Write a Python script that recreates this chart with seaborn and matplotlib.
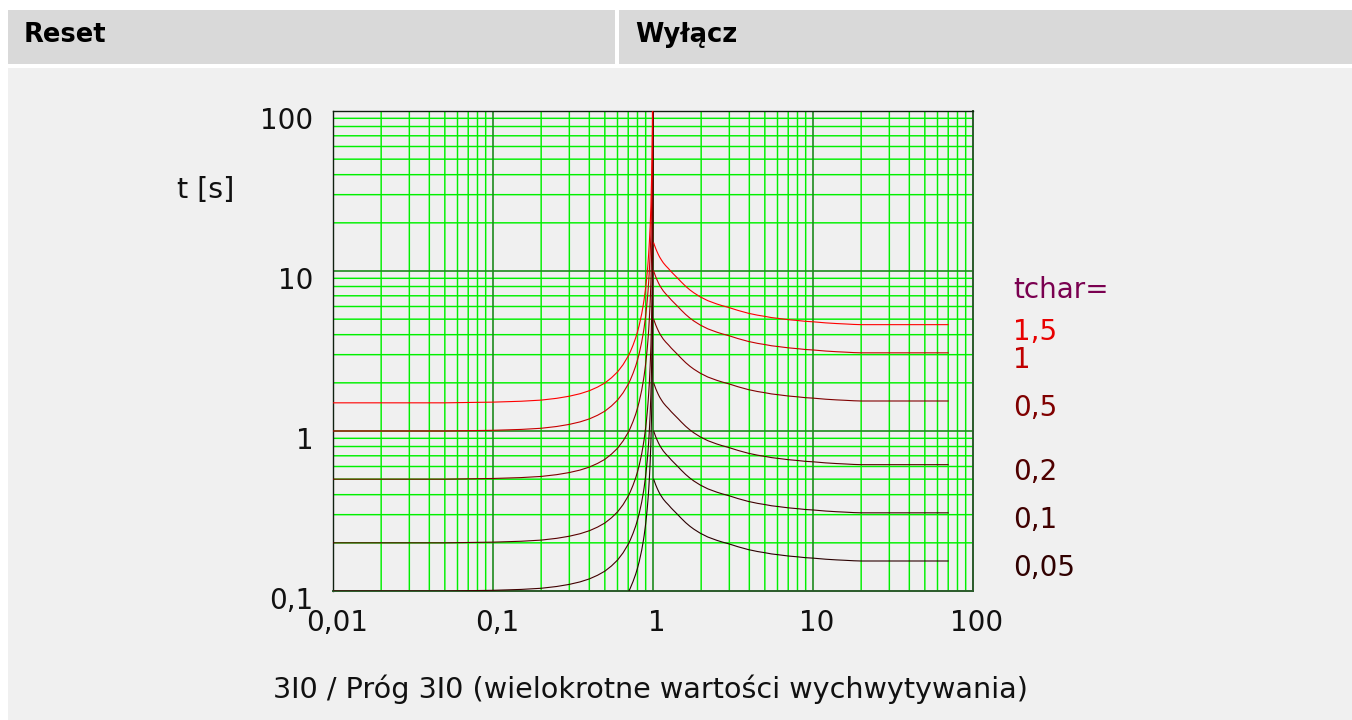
import numpy as np
import pandas as pd
import matplotlib
matplotlib.use("Agg")
import matplotlib.pyplot as plt
from matplotlib.patches import Rectangle
from matplotlib.ticker import FixedLocator, LogLocator, NullFormatter
from matplotlib.transforms import ScaledTranslation, blended_transform_factory
import seaborn as sns

# Time multiplier settings shown on the chart
tchar_values = [1.5, 1.0, 0.5, 0.2, 0.1, 0.05]
tchar_labels = ["1,5", "1", "0,5", "0,2", "0,1", "0,05"]
curve_colors = ["#ff0000", "#c80000", "#800000", "#580000", "#400000", "#2a0000"]
label_colors = ["#e80000", "#c00000", "#800000", "#500000", "#400000", "#300000"]

# Reset characteristic: multiple of pickup vs. time per unit of tchar
reset_m = [0.01, 0.05, 0.1, 0.15, 0.2, 0.25, 0.3, 0.35, 0.4, 0.45, 0.5, 0.55,
           0.6, 0.65, 0.7, 0.72, 0.75, 0.78, 0.8, 0.82, 0.85, 0.87, 0.88, 0.9,
           0.91, 0.92, 0.93, 0.94, 0.95, 0.96, 0.97, 0.98, 0.985, 0.99, 0.995,
           0.999, 0.9999]
reset_t = [1.0, 1.0, 1.01, 1.023, 1.04, 1.067, 1.10, 1.14, 1.19, 1.254, 1.33, 1.434,
           1.56, 1.732, 1.96, 2.077, 2.29, 2.553, 2.78, 3.052, 3.6, 4.115, 4.43, 5.26,
           5.82, 6.51, 7.4, 8.59, 10.3, 12.76, 16.9, 25.3, 33.8, 50.0, 100.0,
           500.0, 5000.0]

# Trip characteristic: multiple of pickup vs. time per unit of tchar
trip_m = [1.01, 1.02, 1.03, 1.04, 1.05, 1.06, 1.08, 1.10, 1.13, 1.16, 1.20,
          1.25, 1.30, 1.35, 1.44, 1.5, 1.6, 1.7, 1.8, 1.97, 2.2, 2.5, 2.7,
          2.96, 3.4, 3.94, 4.5, 5.0, 5.5, 6.07, 7.0, 8.0, 9.0, 10.0, 12.0,
          14.0, 16.0, 18.0, 20.0, 70.0]
trip_t = [10.0, 9.7, 9.45, 9.2, 9.0, 8.8, 8.45, 8.15, 7.8, 7.5, 7.2,
          6.9, 6.6, 6.35, 5.95, 5.7, 5.35, 5.08, 4.87, 4.6, 4.35, 4.15, 4.05,
          3.95, 3.78, 3.63, 3.53, 3.47, 3.41, 3.37, 3.31, 3.27, 3.23, 3.21, 3.16,
          3.13, 3.11, 3.09, 3.08, 3.08]

x_ticks = [0.01, 0.1, 1, 10, 100]
x_tick_labels = ["0,01", "0,1", "1", "10", "100"]
y_ticks = [0.1, 1, 10, 100]
y_tick_labels = ["0,1", "1", "10", "100"]

header_left = "Reset"
header_right = "Wyłącz"
y_title = "t [s]"
x_title = "3I0 / Próg 3I0 (wielokrotne wartości wychwytywania)"

rows = []
for tc in tchar_values:
    for m, t in zip(reset_m, reset_t):
        rows.append({"M": m, "t": tc * t, "tchar": tc, "side": "reset"})
    for m, t in zip(trip_m, trip_t):
        rows.append({"M": m, "t": tc * t, "tchar": tc, "side": "trip"})
df = pd.DataFrame(rows)

sns.set_theme(style="white")
plt.rcParams["font.family"] = ["DejaVu Sans"]

MINOR_GRID = "#00f000"
MAJOR_GRID = "#1e8a1e"

W, H, DPI = 1352, 720, 100
fig = plt.figure(figsize=(W / DPI, H / DPI), dpi=DPI, facecolor="white")

def px_rect(x0, y0, x1, y1, color):
    fig.patches.append(Rectangle((x0 / W, 1 - y1 / H), (x1 - x0) / W, (y1 - y0) / H,
                                 transform=fig.transFigure, facecolor=color,
                                 edgecolor="none", zorder=-5))

# Page background and header cells
px_rect(8, 68, W, H, "#f0f0f0")
px_rect(8, 10, 615, 64, "#d9d9d9")
px_rect(619, 10, W, 64, "#d9d9d9")
fig.text(24 / W, 1 - 42 / H, header_left, fontsize=18.5, fontweight="bold",
         ha="left", va="baseline", color="#000000")
fig.text(635 / W, 1 - 42 / H, header_right, fontsize=18.5, fontweight="bold",
         ha="left", va="baseline", color="#000000")

ax = fig.add_axes([333 / W, 1 - 591 / H, 640 / W, 480 / H])
ax.set_zorder(2)
ax.set_facecolor("#f0f0f0")
ax.set_xscale("log")
ax.set_yscale("log")

palette = dict(zip(tchar_values, curve_colors))
sns.lineplot(data=df, x="M", y="t", hue="tchar", units="side", estimator=None,
             sort=False, palette=palette, legend=False, linewidth=0.8, ax=ax,
             zorder=3)

ax.set_xlim(0.01, 100)
ax.set_ylim(0.1, 100)

ax.xaxis.set_major_locator(FixedLocator(x_ticks))
ax.set_xticklabels(x_tick_labels)
ax.yaxis.set_major_locator(FixedLocator(y_ticks))
ax.set_yticklabels(y_tick_labels)
ax.xaxis.set_minor_locator(LogLocator(base=10, subs=np.arange(2, 10), numticks=50))
ax.yaxis.set_minor_locator(LogLocator(base=10, subs=np.arange(2, 10), numticks=50))
ax.xaxis.set_minor_formatter(NullFormatter())
ax.yaxis.set_minor_formatter(NullFormatter())
ax.grid(False)

# Log grid drawn from the axis locators
xmin_locs = [v for v in ax.xaxis.get_minorticklocs() if 0.01 < v < 100]
ymin_locs = [v for v in ax.yaxis.get_minorticklocs() if 0.1 < v < 100]
xmaj_locs = [v for v in x_ticks if 0.01 < v < 100]
ymaj_locs = [v for v in y_ticks if 0.1 < v < 100]
ax.vlines(xmin_locs, 0, 1, transform=ax.get_xaxis_transform(), colors=MINOR_GRID,
          linewidth=1.05, zorder=1, snap=False)
ax.hlines(ymin_locs, 0, 1, transform=ax.get_yaxis_transform(), colors=MINOR_GRID,
          linewidth=1.05, zorder=1, snap=False)
ax.vlines(xmaj_locs, 0, 1, transform=ax.get_xaxis_transform(), colors=MAJOR_GRID,
          linewidth=1.2, zorder=2, snap=False)
ax.hlines(ymaj_locs, 0, 1, transform=ax.get_yaxis_transform(), colors=MAJOR_GRID,
          linewidth=1.2, zorder=2, snap=False)

ax.tick_params(axis="both", which="both", length=0, labelsize=20, colors="#111111")
ax.tick_params(axis="x", pad=13)
ax.tick_params(axis="y", pad=14)
ax.set_xlabel("")
ax.set_ylabel("")

for lab in ax.get_yticklabels():
    lab.set_transform(lab.get_transform() + ScaledTranslation(0, -7 / DPI, fig.dpi_scale_trans))
for lab in ax.get_xticklabels():
    lab.set_transform(lab.get_transform() + ScaledTranslation(4 / DPI, 0, fig.dpi_scale_trans))

for side in ["left", "top"]:
    ax.spines[side].set_color("#102010")
    ax.spines[side].set_linewidth(1.0)
for side in ["right", "bottom"]:
    ax.spines[side].set_color("#2a5a2a")
    ax.spines[side].set_linewidth(1.4)

# Curve annotations at the right, aligned with each curve's plateau
tr = blended_transform_factory(ax.transAxes, ax.transData)
shift = ScaledTranslation(0, -7 / DPI, fig.dpi_scale_trans)
plateau = trip_t[-1]
for tc, lab, col in zip(tchar_values, tchar_labels, label_colors):
    ax.text(1.0625, tc * plateau, lab, color=col, fontsize=20, ha="left",
            va="center", transform=tr + shift, clip_on=False)
ax.text(1.0625, 0.627, "tchar=", color="#7a0050", fontsize=20, ha="left",
        va="center", transform=ax.transAxes, clip_on=False)

fig.text(206 / W, 1 - 190 / H, y_title, fontsize=20.5, ha="center", va="center",
         color="#111111")
fig.text(650 / W, 1 - 689 / H, x_title, fontsize=20.6, ha="center", va="center",
         color="#111111")

fig.savefig("out.png", dpi=DPI, facecolor=fig.get_facecolor())
